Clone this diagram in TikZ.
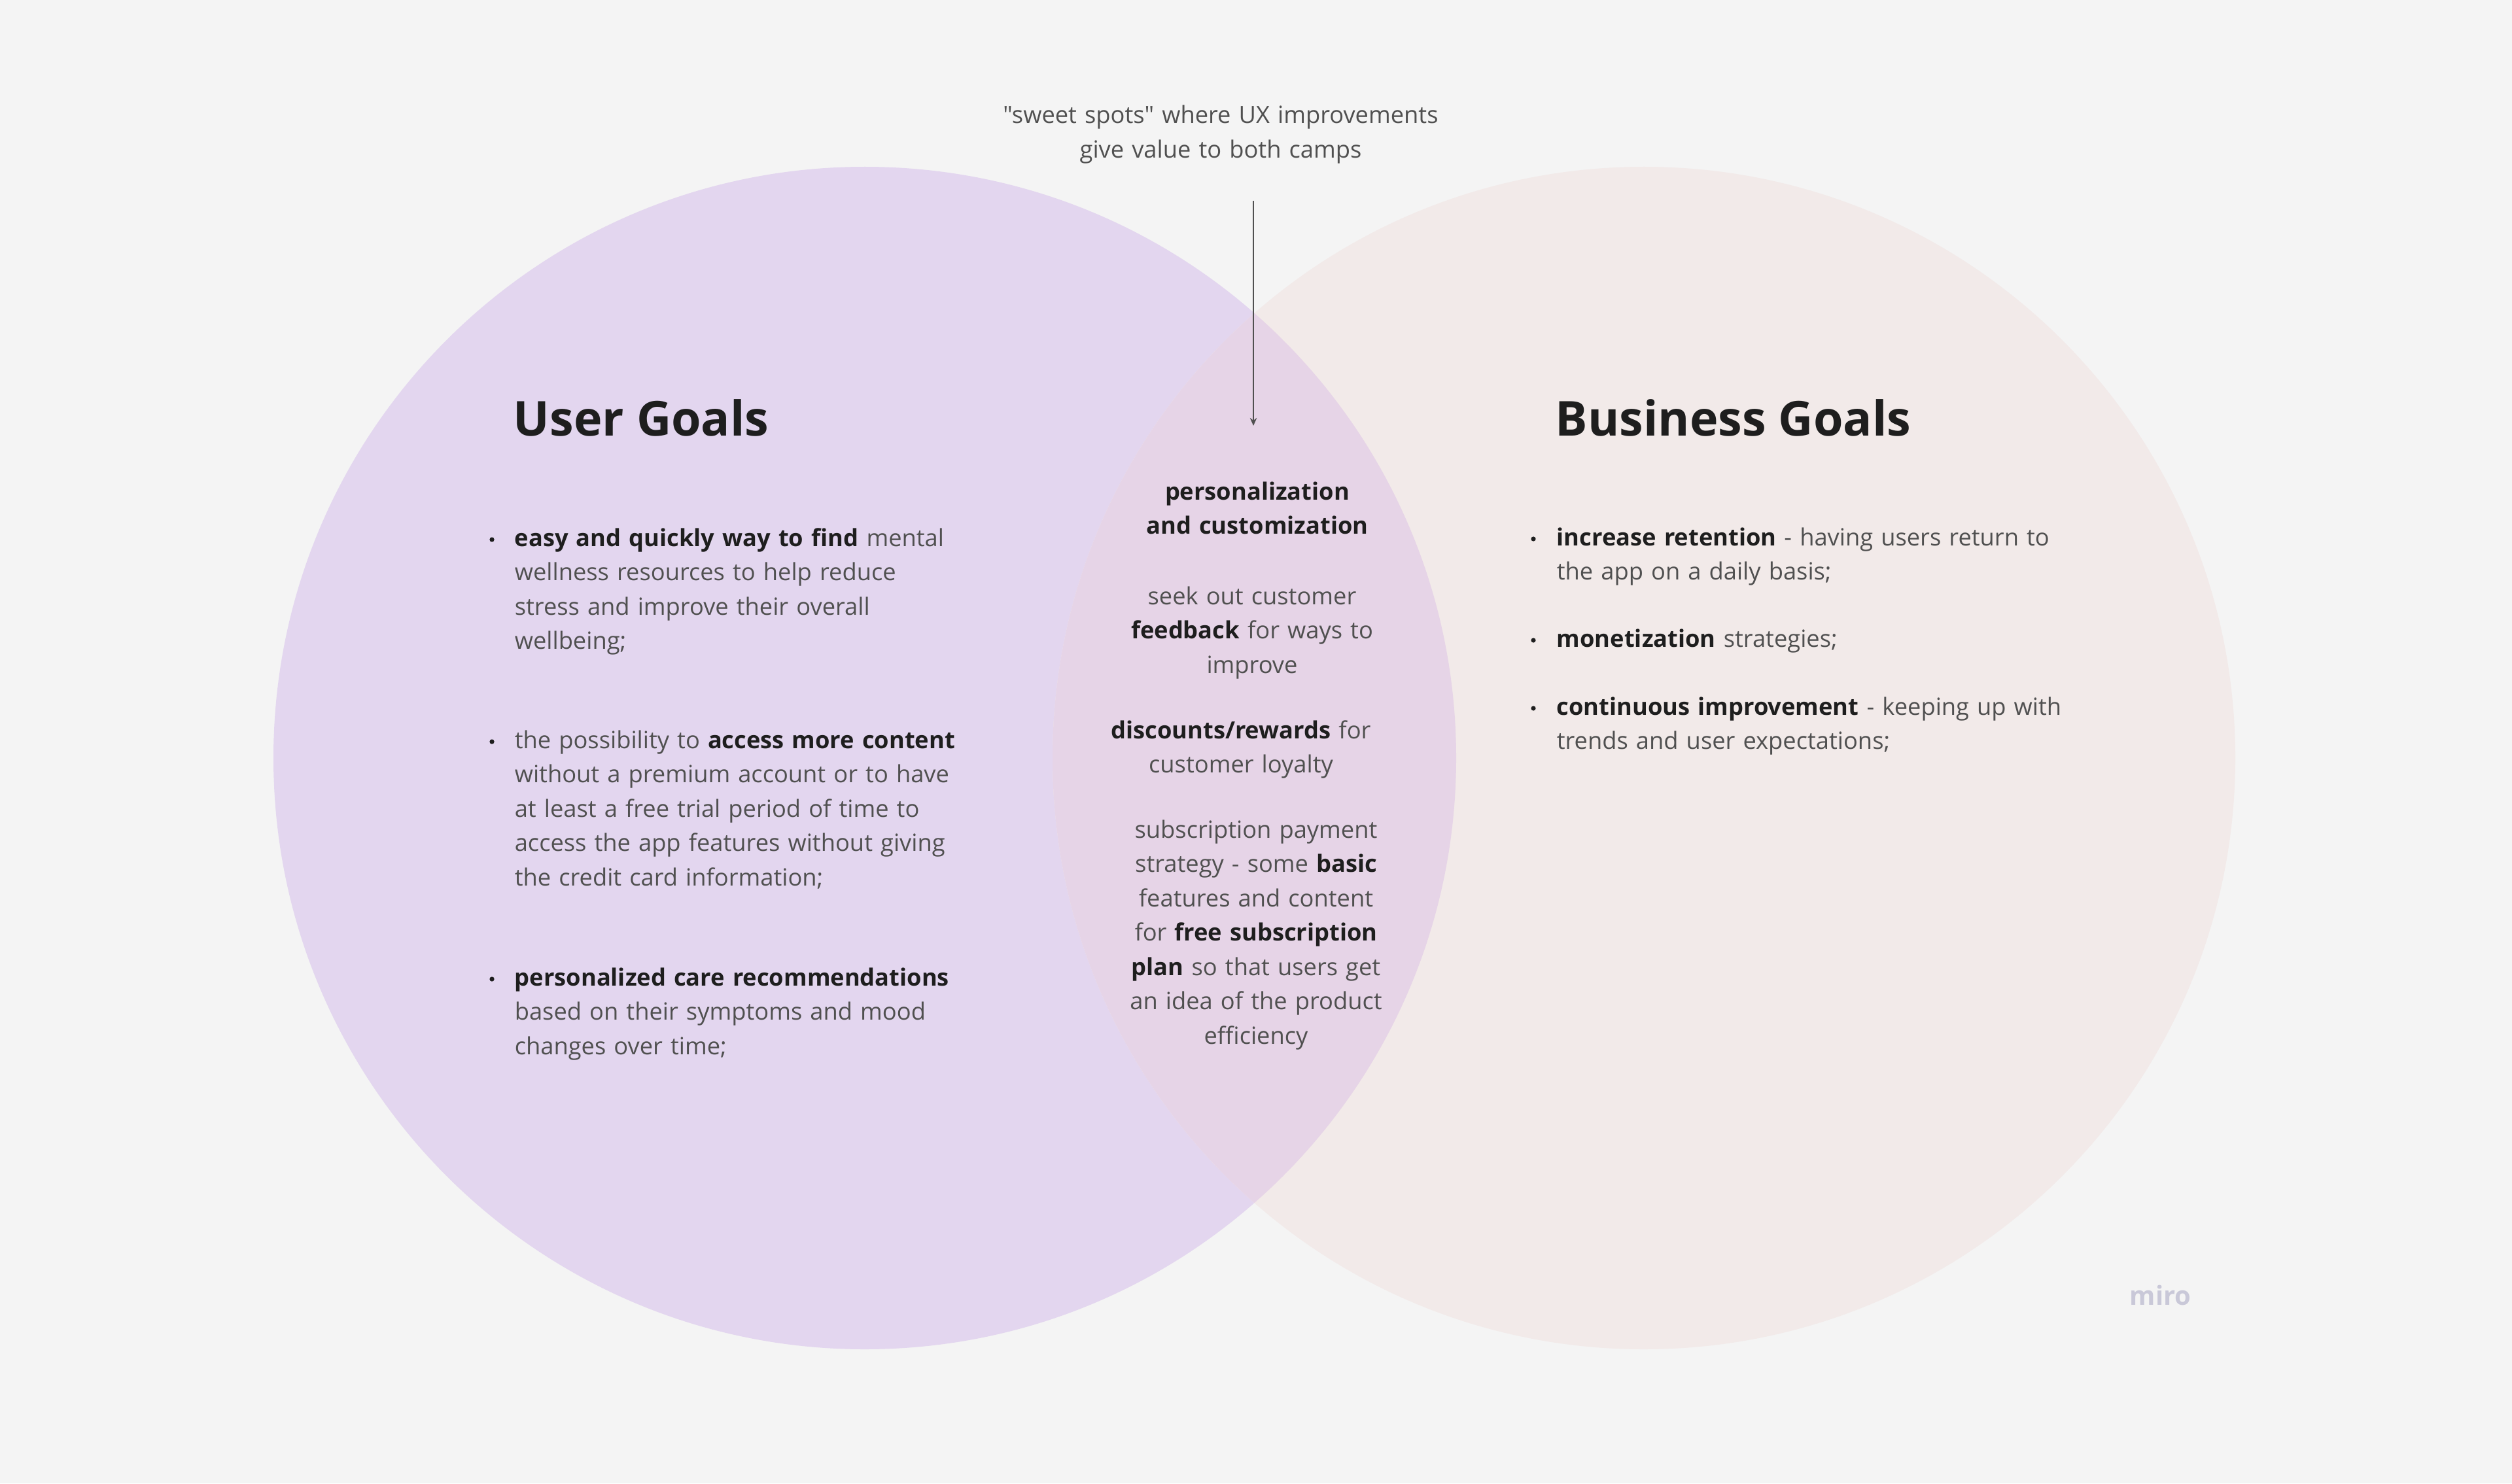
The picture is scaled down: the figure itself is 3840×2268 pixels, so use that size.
\documentclass[tikz,border=0pt]{standalone}
\usepackage{fontspec}
\setmainfont{Open Sans}[Ligatures=TeXOff]
\usetikzlibrary{arrows.meta}
\definecolor{bgc}{HTML}{F4F4F4}
\definecolor{leftc}{HTML}{E3D6EF}
\definecolor{rightc}{HTML}{F2EAE9}
\definecolor{overc}{HTML}{E6D4E7}
\definecolor{textgray}{HTML}{505050}
\definecolor{textdark}{HTML}{1E1E1E}
\definecolor{mirogray}{HTML}{C9C8D8}
\newcommand\hb[1]{{\bfseries\color{textdark}#1}}
\tikzset{
  title/.style={font=\fontsize{18.4pt}{22pt}\selectfont\bfseries, text=textdark, inner sep=0pt, anchor=base west},
  lpara/.style={font=\fontsize{9.07pt}{13.125pt}\selectfont, text=textgray, inner sep=0pt, anchor=base west, align=left, text width=#1},
  cpara/.style={font=\fontsize{9.07pt}{13.125pt}\selectfont, text=textgray, inner sep=0pt, anchor=base, align=center, text width=140pt},
  bdot/.style={fill=textdark},
  arrowc/.style={draw=textgray, line width=0.7pt, -{Stealth[length=3pt,width=2.6pt]}}
}
\begin{document}
\begin{tikzpicture}[x=0.25pt,y=-0.25pt]
\fill[bgc] (0,0) rectangle (3840,2268);
\useasboundingbox (0,0) rectangle (3840,2268);
% circles
\fill[leftc] (1322,1159) circle[radius=226pt];
\fill[rightc] (2513,1159) circle[radius=226pt];
\begin{scope}
  \clip (1322,1159) circle[radius=226pt];
  \fill[overc] (2513,1159) circle[radius=226pt];
\end{scope}
% top note and arrow
\node[cpara, text width=200pt] (note) at (1866,189) {"sweet spots" where UX improvements\\give value to both camps};
\coordinate (as) at (1916,307);
\coordinate (ae) at (1916,651);
\draw[arrowc] (as) -- (ae);
% titles
\node[title] (ug) at (784,666) {User Goals};
\node[title] (bg) at (2377,666) {Business Goals};
% left bullets
\node[lpara=200pt] (u1) at (786,835) {\hb{easy and quickly way to find} mental\\wellness resources to help reduce\\stress and improve their overall\\wellbeing;};
\node[lpara=200pt] (u2) at (786,1144) {the possibility to \hb{access more content}\\without a premium account or to have\\at least a free trial period of time to\\access the app features without giving\\the credit card information;};
\node[lpara=200pt] (u3) at (786,1507) {\hb{personalized care recommendations}\\based on their symptoms and mood\\changes over time;};
\fill[bdot] (752,825) circle[radius=0.9pt];
\fill[bdot] (752,1134) circle[radius=0.9pt];
\fill[bdot] (752,1497) circle[radius=0.9pt];
% right bullets
\node[lpara=225pt] (b1) at (2379,834) {\hb{increase retention} - having users return to\\the app on a daily basis;};
\node[lpara=225pt] (b2) at (2379,989) {\hb{monetization} strategies;};
\node[lpara=225pt] (b3) at (2379,1093) {\hb{continuous improvement} - keeping up with\\trends and user expectations;};
\fill[bdot] (2344,824) circle[radius=0.9pt];
\fill[bdot] (2344,979) circle[radius=0.9pt];
\fill[bdot] (2344,1083) circle[radius=0.9pt];
% center
\node[cpara] (c1) at (1922,764) {\hb{personalization}\\\hb{and customization}};
\node[cpara] (c2) at (1914,924) {seek out customer\\\hb{feedback} for ways to\\improve};
\node[cpara] (c3) at (1897,1129) {\hb{discounts/rewards} for\\customer loyalty};
\node[cpara] (c4) at (1920,1281) {subscription payment\\strategy - some \hb{basic}\\features and content\\for \hb{free subscription}\\\hb{plan} so that users get\\an idea of the product\\efficiency};
% logo
\node[font=\fontsize{10pt}{12pt}\selectfont\bfseries, text=mirogray, inner sep=0pt, anchor=base west] (miro) at (3255,1995) {miro};
\end{tikzpicture}
\end{document}
